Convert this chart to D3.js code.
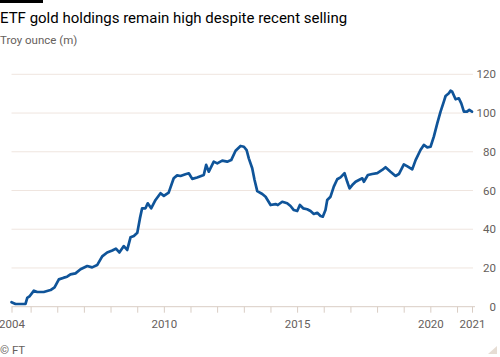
<!DOCTYPE html>
<html>
<head>
<meta charset="utf-8">
<script src="https://cdn.jsdelivr.net/npm/d3@7"></script>
<style>
  html, body { margin: 0; padding: 0; background: #fff; }
  svg { display: block; }
  text { font-family: Roboto, "Noto Sans", sans-serif; }
</style>
</head>
<body>
<svg id="chart" width="500" height="357"></svg>
<script>
// ---- Data ----
const dates = [
  "2004-04-14","2004-06-08","2004-10-23","2004-11-16","2004-12-21",
  "2005-02-15","2005-04-01","2005-06-30","2005-10-01","2005-11-25",
  "2006-01-23","2006-04-01","2006-05-16","2006-07-01","2006-09-08","2006-11-16",
  "2007-02-16","2007-04-24","2007-07-02","2007-09-09","2007-11-16",
  "2008-01-25","2008-03-15","2008-05-01","2008-07-01","2008-08-17","2008-10-01","2008-11-16",
  "2009-01-02","2009-02-07","2009-03-09","2009-04-24","2009-05-25","2009-07-11","2009-09-09","2009-11-16",
  "2010-01-01","2010-03-08","2010-05-16","2010-07-02","2010-08-17","2010-10-24","2010-12-09",
  "2011-01-25","2011-04-02","2011-07-02","2011-08-04","2011-09-09","2011-11-16",
  "2012-01-03","2012-03-11","2012-05-18","2012-07-12","2012-09-10","2012-11-17",
  "2013-01-02","2013-02-08","2013-03-10","2013-04-26","2013-05-28","2013-07-04","2013-09-11","2013-10-26",
  "2014-01-03","2014-03-11","2014-04-12","2014-06-11","2014-08-18","2014-10-03","2014-11-17",
  "2015-01-03","2015-02-08","2015-03-25","2015-05-19","2015-07-04","2015-08-18","2015-10-04","2015-11-18","2015-12-19",
  "2016-01-25","2016-02-18","2016-04-03","2016-05-18","2016-07-04","2016-08-18","2016-10-12","2016-11-18","2016-12-20",
  "2017-01-26","2017-03-13","2017-04-27","2017-06-13","2017-07-04","2017-08-28","2017-10-27",
  "2018-01-04","2018-03-12","2018-04-27","2018-07-04","2018-09-11","2018-10-27",
  "2019-01-03","2019-02-27","2019-04-28","2019-06-13","2019-08-19","2019-10-04","2019-11-20",
  "2020-01-04","2020-02-18","2020-04-05","2020-05-20","2020-07-04","2020-07-28","2020-09-11","2020-10-04","2020-10-27","2020-12-12",
  "2021-01-26","2021-02-28","2021-04-05","2021-05-18","2021-06-18","2021-07-25"
];
const holdings = [
  2.3,1.4,1.4,4.6,5.5,
  8.3,7.6,7.6,8.6,10,
  14.1,15,15.5,16.7,17.2,19.3,
  21,20.3,21.5,26,28,
  29,30,28,31.3,29.3,35.8,36.5,
  38.2,45.6,50.8,50.8,53.4,50.8,55.1,58.6,
  57.2,58.9,66.3,67.8,67.5,68.4,68.9,
  66,66.7,68,73.2,69.7,74.9,
  74,75.4,74.9,75.7,80.5,83,
  82.6,80.9,76.6,71.5,65.4,59.7,58.2,56.8,
  52.5,53,52.5,54.2,53.4,52,49.9,
  49.4,52.5,50.8,50.3,49.4,47.9,48.5,46.8,46.5,
  49.9,55.1,56.8,62,65.8,66.8,68.9,64.5,61.1,
  62.8,64.5,65.4,66.3,64.5,68,68.5,
  69,70.6,72,69.7,67.5,68.5,
  73.5,72.3,70.9,75.7,80.9,83.5,82.3,
  82.6,87.8,94.7,100.7,105.9,108.8,110.2,111.5,111,107.1,
  107.6,105,100.7,100.7,101.6,100.7
];
const yTicks = [0, 20, 40, 60, 80, 100, 120];
const xTickYears = [2005,2006,2007,2008,2009,2010,2011,2012,2013,2014,2015,2016,2017,2018,2019,2020,2021];
const xLabelYears = ["2010", "2015", "2020"];
const firstLabel = "2004";
const lastLabel = "2021";

const titleText = "ETF gold holdings remain high despite recent selling";
const subtitleText = "Troy ounce (m)";
const sourceText = "\u00A9 FT";

// ---- Drawing ----
const parse = d3.timeParse("%Y-%m-%d");
const series = dates.map((d, i) => ({ date: parse(d), value: holdings[i] }));

const svg = d3.select("#chart");
const x = d3.scaleTime().domain(d3.extent(series, d => d.date)).range([11.5, 472]);
const y = d3.scaleLinear().domain([0, 120]).range([306.7, 74.3]);

// top black bar
svg.append("rect").attr("x", 0).attr("y", 0).attr("width", 43).attr("height", 3).attr("fill", "#000");

svg.append("text").attr("x", 0).attr("y", 23)
  .attr("font-size", 15).attr("fill", "#000").text(titleText);
svg.append("text").attr("x", 0).attr("y", 44)
  .attr("font-size", 11.5).attr("fill", "#66605c").text(subtitleText);

// gridlines
svg.append("g").selectAll("line").data(yTicks.filter(t => t !== 0)).join("line")
  .attr("x1", 11.5).attr("x2", 473)
  .attr("y1", d => y(d)).attr("y2", d => y(d))
  .attr("stroke", "#efe5df").attr("stroke-width", 1);

// y axis labels (right side)
const yAxis = d3.axisRight(y).tickValues(yTicks).tickSize(0).tickPadding(0);
const gy = svg.append("g").attr("transform", "translate(496,0)").call(yAxis);
gy.select(".domain").remove();
gy.selectAll("text").attr("x", 0).attr("text-anchor", "end")
  .attr("fill", "#66605c").attr("font-size", 11.5).attr("font-family", "Roboto, sans-serif");

// x axis
const start = x.domain()[0], end = x.domain()[1];
const tickDates = [start, ...xTickYears.map(yr => new Date(yr, 0, 1)), end];
const xAxis = d3.axisBottom(x).tickValues(tickDates).tickSize(6).tickSizeOuter(0).tickPadding(7)
  .tickFormat(d => {
    if (+d === +start) return firstLabel;
    if (+d === +end) return lastLabel;
    const s = String(d.getFullYear());
    return xLabelYears.includes(s) ? s : "";
  });
const gx = svg.append("g").attr("transform", `translate(0,${y(0)})`).call(xAxis);
gx.select(".domain").remove();
gx.selectAll(".tick line").attr("stroke", "#d9cdc4");
gx.selectAll("text").attr("fill", "#66605c").attr("font-size", 11.5).attr("font-family", "Roboto, sans-serif");
svg.append("line").attr("x1", 11.5).attr("x2", 475).attr("y1", y(0)).attr("y2", y(0))
  .attr("stroke", "#d9cdc4").attr("stroke-width", 1);

// line
const line = d3.line().x(d => x(d.date)).y(d => y(d.value)).curve(d3.curveLinear);
svg.append("path").datum(series).attr("d", line)
  .attr("fill", "none").attr("stroke", "#0f5499").attr("stroke-width", 2.7)
  .attr("stroke-linejoin", "round").attr("stroke-linecap", "round");

// source
svg.append("text").attr("x", 0).attr("y", 354)
  .attr("font-size", 11.5).attr("fill", "#66605c").text(sourceText);

// corner mark
svg.append("path").attr("d", "M497,346 L497,354 L488,354 Z").attr("fill", "#e6ddd4");
</script>
</body>
</html>
